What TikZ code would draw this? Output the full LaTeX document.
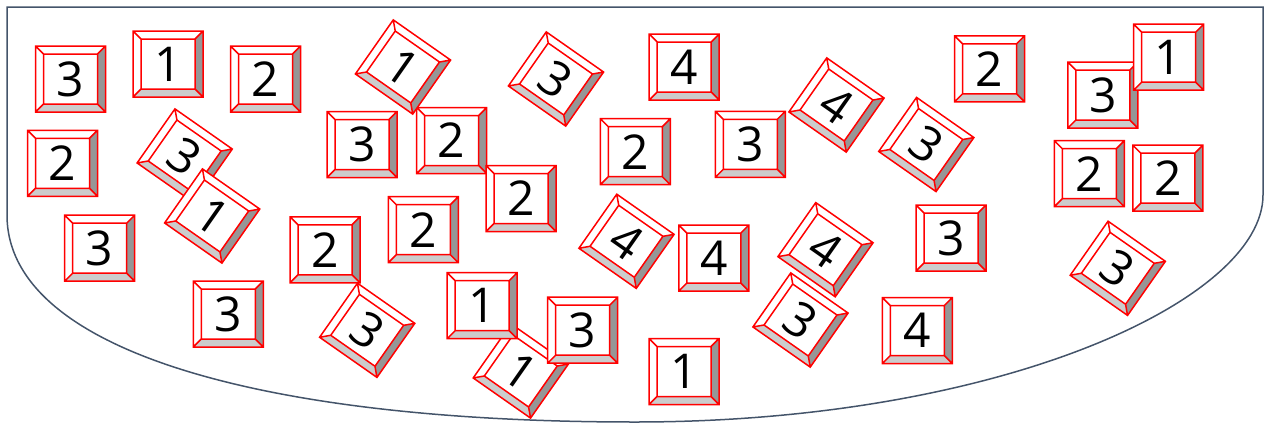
\documentclass[tikz,border=0pt]{standalone}
\usepackage{fontspec}
\setmainfont{Open Sans}
\definecolor{framecol}{HTML}{44546A}
\definecolor{facedark}{HTML}{969696}
\definecolor{facelight}{HTML}{CCCCCC}
\tikzset{
  tileline/.style={draw=red, line width=1.5pt, line join=miter},
  digit/.style={inner sep=0pt, font=\fontsize{48}{48}\selectfont, text=black},
  frameline/.style={draw=framecol, line width=1.5pt},
  pics/tile/.style={code={
    \fill[white] (-35,-33) rectangle (35,33);
    \fill[facedark] (35,-33) -- (35,33) -- (27,25) -- (27,-25) -- cycle;
    \fill[facelight] (-35,33) -- (35,33) -- (27,25) -- (-27,25) -- cycle;
    \draw[tileline] (-35,-33) rectangle (35,33) (-27,-25) rectangle (27,25)
      (-35,-33) -- (-27,-25) (35,-33) -- (27,-25) (35,33) -- (27,25) (-35,33) -- (-27,25);
    \node[digit, transform shape] (-n) at (0,0) {#1};
  }}
}
\begin{document}
\begin{tikzpicture}[x=1pt, y=-1pt]
\useasboundingbox (0,0) rectangle (1267,426);
% container
\draw[frameline] (7,7) -- (1263,7) -- (1263,195)
  .. controls (1263,300) and (1000,422) .. (635,422)
  .. controls (260,422) and (7,350) .. (7,215) -- cycle;
% tiles
\pic (s1) at (70.5,79) {tile=3};
\pic (s2) at (168,64) {tile=1};
\pic (s3) at (265.5,79) {tile=2};
\pic (s4) at (62.5,163.3) {tile=2};
\pic (s5) at (99.7,248.2) {tile=3};
\pic (s6) at (228.3,314) {tile=3};
\pic (s7) at (362,144.5) {tile=3};
\pic (s8) at (451.7,140.5) {tile=2};
\pic (s9) at (521,198.5) {tile=2};
\pic (s10) at (423.3,229.7) {tile=2};
\pic (s11) at (325,249.8) {tile=2};
\pic[rotate=-35] (r1) at (403,67) {tile=1};
\pic[rotate=-35] (r2) at (556,79) {tile=3};
\pic[rotate=-35] (r3) at (184.7,156) {tile=3};
\pic[rotate=-35] (r4) at (212.2,216) {tile=1};
\pic[rotate=-35] (r5) at (367.2,330.3) {tile=3};
\pic[rotate=-35] (r6) at (520.8,371) {tile=1};
\pic (s12) at (482.2,305.7) {tile=1};
\pic (s13) at (582.7,330.2) {tile=3};
\pic (s14) at (684,371.5) {tile=1};
\pic (s15) at (684.2,67) {tile=4};
\pic (s16) at (635.3,151.7) {tile=2};
\pic (s17) at (750.3,144.3) {tile=3};
\pic (s18) at (713.8,258) {tile=4};
\pic (s19) at (951,238) {tile=3};
\pic (s20) at (917.3,330.5) {tile=4};
\pic (s21) at (989.5,68.8) {tile=2};
\pic (s22) at (1102.8,95) {tile=3};
\pic (s23) at (1168.7,57.2) {tile=1};
\pic (s24) at (1089.3,173.7) {tile=2};
\pic (s25) at (1167.8,178.2) {tile=2};
\pic[rotate=-35] (r7) at (626.5,241.3) {tile=4};
\pic[rotate=-35] (r8) at (836.5,105) {tile=4};
\pic[rotate=-35] (r9) at (926.3,144.5) {tile=3};
\pic[rotate=-35] (r10) at (825.5,249.7) {tile=4};
\pic[rotate=-35] (r11) at (800.5,320) {tile=3};
\pic[rotate=-35] (r12) at (1117.8,268.3) {tile=3};
\end{tikzpicture}
\end{document}
